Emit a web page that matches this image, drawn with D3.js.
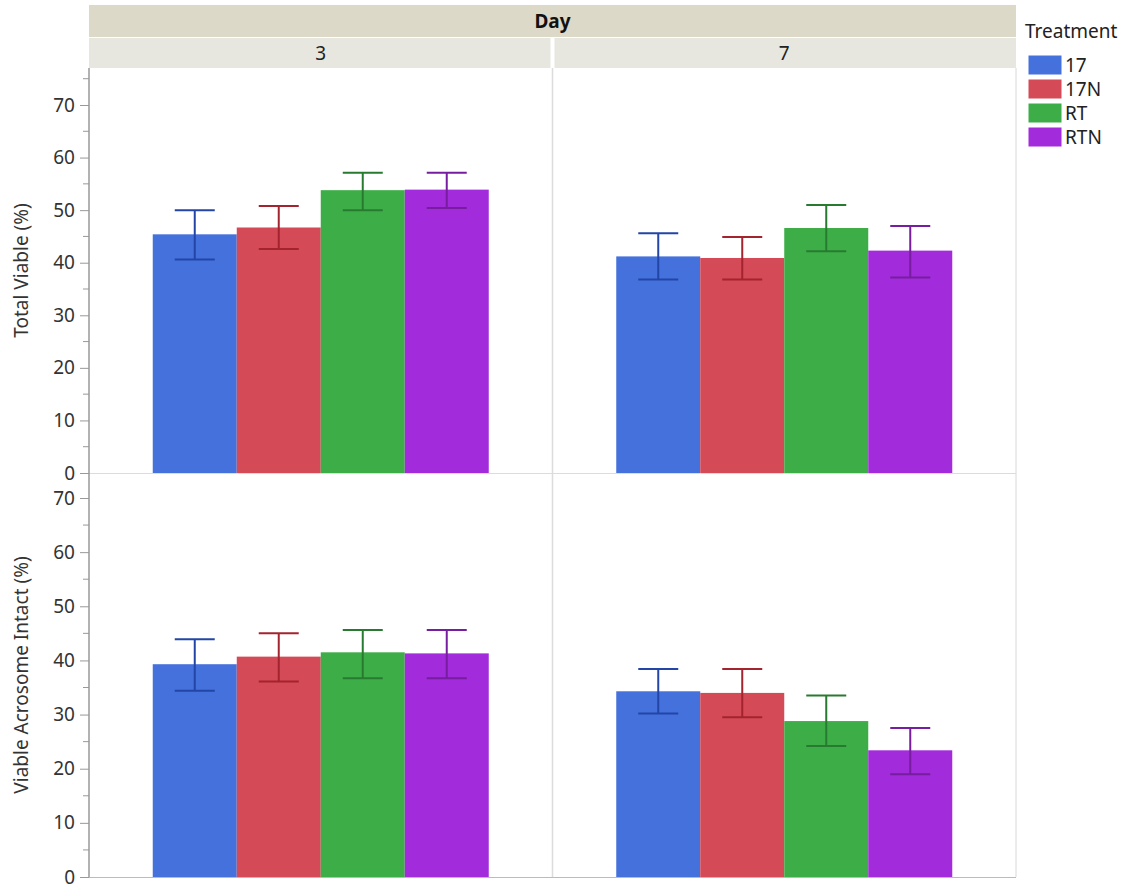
<!DOCTYPE html>
<html>
<head>
<meta charset="utf-8">
<script src="https://cdn.jsdelivr.net/npm/d3@7"></script>
<style>
  body { margin: 0; background: #fff; }
  svg { font-family: "Noto Sans", "Open Sans", sans-serif; }
</style>
</head>
<body>
<svg id="chart" width="1125" height="885"></svg>
<script>
// categories
const days = ["3", "7"];
const treatments = ["17", "17N", "RT", "RTN"];
const measures = ["Total Viable (%)", "Viable Acrosome Intact (%)"];
const yTicks = [0, 10, 20, 30, 40, 50, 60, 70];

// values [day][treatment]
const viableMean = [[45.4, 46.7, 53.8, 53.9], [41.2, 40.9, 46.6, 42.3]];
const viableLower = [[40.6, 42.6, 50.0, 50.4], [36.8, 36.8, 42.2, 37.2]];
const viableUpper = [[50.0, 50.8, 57.1, 57.1], [45.6, 44.9, 51.0, 47.0]];
const acroMean = [[39.3, 40.7, 41.5, 41.3], [34.3, 34.0, 28.8, 23.4]];
const acroLower = [[34.4, 36.1, 36.7, 36.7], [30.2, 29.5, 24.2, 19.0]];
const acroUpper = [[43.9, 45.0, 45.6, 45.6], [38.4, 38.4, 33.5, 27.5]];

let colors = ["#4471dc", "#d44b57", "#3dae47", "#a22bdc"];
let errColors = ["#2346a6", "#a3232f", "#297a31", "#761e9f"];

let rows = [
    { mean: viableMean, lower: viableLower, upper: viableUpper, top: 68, bottom: 473, y70: 105 },
    { mean: acroMean, lower: acroLower, upper: acroUpper, top: 473, bottom: 877, y70: 498 },
];

let left = 89, right = 1016;
let fontSize = 19;
let svg = d3.select("#chart");

let xDay = d3.scaleBand().domain(days).range([left, right]);
let barSpan = 336;

// header bands
svg.append("rect").attr("x", left).attr("y", 5).attr("width", right - left).attr("height", 32).attr("fill", "#dcd9c9");
svg.append("text").attr("x", (left + right) / 2).attr("y", 28).attr("text-anchor", "middle")
    .attr("font-size", fontSize).attr("font-weight", "bold").attr("fill", "#111").text("Day");

days.forEach((d) => {
    let x0 = xDay(d);
    svg.append("rect").attr("x", x0 + (d === days[0] ? 0 : 2)).attr("y", 38)
        .attr("width", xDay.bandwidth() - 2).attr("height", 30).attr("fill", "#e7e7df");
    svg.append("text").attr("x", x0 + xDay.bandwidth() / 2).attr("y", 60).attr("text-anchor", "middle")
        .attr("font-size", fontSize).attr("fill", "#222").text(d);
});

// panel dividers
svg.append("line").attr("x1", xDay(days[1])).attr("x2", xDay(days[1])).attr("y1", 68).attr("y2", 877)
    .attr("stroke", "#dcdcdc").attr("stroke-width", 1.5);
svg.append("line").attr("x1", right).attr("x2", right).attr("y1", 68).attr("y2", 877)
    .attr("stroke", "#d8d8d8");
svg.append("line").attr("x1", left).attr("x2", right).attr("y1", 473.5).attr("y2", 473.5)
    .attr("stroke", "#dcdcdc");
svg.append("line").attr("x1", left).attr("x2", right).attr("y1", 877.5).attr("y2", 877.5)
    .attr("stroke", "#bbb");

rows.forEach((row, r) => {
    let y = d3.scaleLinear().domain([0, 70]).range([row.bottom, row.y70]);

    // bars
    days.forEach((d, di) => {
        let x0 = xDay(d) + (xDay.bandwidth() - barSpan) / 2;
        let xT = d3.scaleBand().domain(treatments).range([x0, x0 + barSpan]);
        let g = svg.append("g");

        g.selectAll("rect")
            .data(treatments)
            .enter()
            .append("rect")
            .attr("x", (t) => xT(t))
            .attr("width", xT.bandwidth())
            .attr("y", (t, i) => y(row.mean[di][i]))
            .attr("height", (t, i) => y(0) - y(row.mean[di][i]))
            .attr("fill", (t, i) => colors[i]);

        // error bars
        let eb = g.selectAll("g.err")
            .data(treatments)
            .enter()
            .append("g")
            .attr("class", "err")
            .attr("stroke", (t, i) => errColors[i])
            .attr("stroke-width", 2);
        let cx = (t) => xT(t) + xT.bandwidth() / 2;
        eb.append("line").attr("x1", cx).attr("x2", cx)
            .attr("y1", (t, i) => y(row.lower[di][i])).attr("y2", (t, i) => y(row.upper[di][i]));
        eb.append("line").attr("x1", (t) => cx(t) - 20).attr("x2", (t) => cx(t) + 20)
            .attr("y1", (t, i) => y(row.upper[di][i])).attr("y2", (t, i) => y(row.upper[di][i]));
        eb.append("line").attr("x1", (t) => cx(t) - 20).attr("x2", (t) => cx(t) + 20)
            .attr("y1", (t, i) => y(row.lower[di][i])).attr("y2", (t, i) => y(row.lower[di][i]));
    });

    // y axis
    let axis = svg.append("g")
        .attr("transform", `translate(${left},0)`)
        .call(d3.axisLeft(y).tickValues(yTicks).tickSize(9).tickPadding(5).tickFormat(d3.format("d")));
    axis.select(".domain").remove();
    axis.selectAll(".tick line").attr("stroke", "#999");
    axis.selectAll(".tick text").attr("font-size", fontSize).attr("fill", "#333")
        .attr("font-family", "'Noto Sans', sans-serif");

    // minor ticks
    let minor = d3.range(5, 80, 10).filter((v) => y(v) >= row.top);
    axis.selectAll("line.minor")
        .data(minor)
        .enter()
        .append("line")
        .attr("class", "minor")
        .attr("x1", -6).attr("x2", 0)
        .attr("y1", (v) => y(v)).attr("y2", (v) => y(v))
        .attr("stroke", "#999");

    axis.append("line").attr("x1", 0).attr("x2", 0).attr("y1", row.top).attr("y2", row.bottom)
        .attr("stroke", "#999").attr("stroke-width", 1.5);

    svg.append("text")
        .attr("transform", `translate(28,${(row.top + row.bottom) / 2}) rotate(-90)`)
        .attr("text-anchor", "middle")
        .attr("font-size", 19)
        .attr("fill", "#333")
        .text(measures[r]);
});

// legend
svg.append("text").attr("x", 1025).attr("y", 38).attr("font-size", fontSize).attr("fill", "#222").text("Treatment");
let leg = svg.selectAll("g.leg")
    .data(treatments)
    .enter()
    .append("g")
    .attr("class", "leg")
    .attr("transform", (t, i) => `translate(1028,${55 + i * 24})`);
leg.append("rect").attr("width", 34).attr("height", 20).attr("fill", (t, i) => colors[i])
    .attr("stroke", "#fff");
leg.append("text").attr("x", 37).attr("y", 17).attr("font-size", fontSize).attr("fill", "#222").text((t) => t);
</script>
</body>
</html>
